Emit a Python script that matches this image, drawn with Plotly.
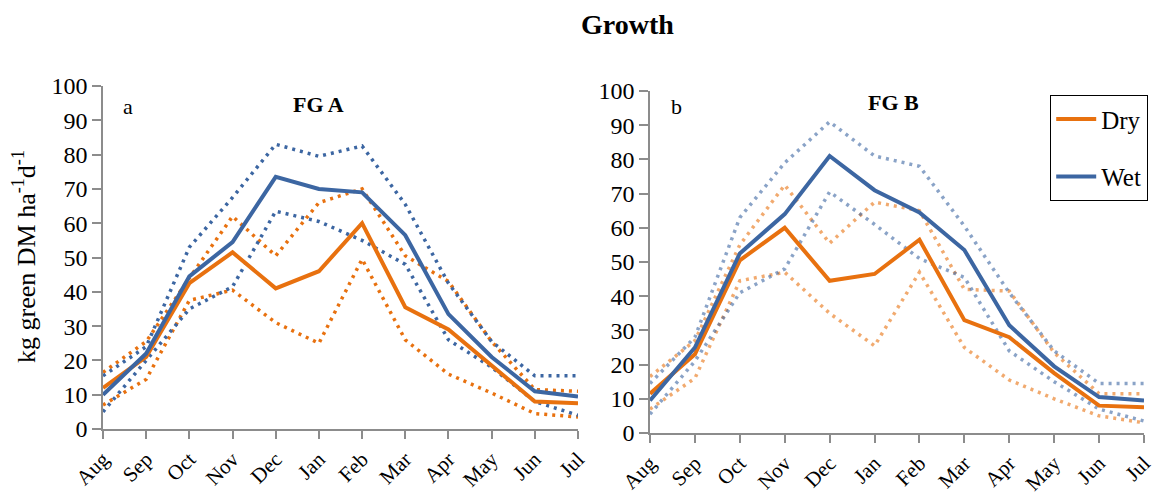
import plotly.graph_objects as go

months = ["Aug", "Sep", "Oct", "Nov", "Dec", "Jan", "Feb", "Mar", "Apr", "May", "Jun", "Jul"]
month_idx = list(range(len(months)))
y_ticks = list(range(0, 101, 10))

# FG A
a_wet = [10, 22, 44.5, 54.5, 73.5, 70, 69, 56.5, 33.5, 21, 11, 9.5]
a_dry = [12, 21, 42.5, 51.5, 41, 46, 60, 35.5, 29, 18.5, 8, 7.5]
a_wet_hi = [15.5, 24, 53, 67.5, 83, 79.5, 82.5, 65.5, 42.5, 25.5, 15.5, 15.5]
a_wet_lo = [5, 20, 35, 41.5, 63.5, 60.5, 55, 48, 26, 18, 8, 4]
a_dry_hi = [16.5, 25.5, 44, 62, 50.5, 66, 70, 50.5, 43, 25.5, 11.5, 11]
a_dry_lo = [7, 14.5, 37.5, 40.5, 31, 25, 49.5, 26, 16, 10.5, 4.5, 3.5]

# FG B
b_wet = [9.5, 25, 52.5, 64, 81, 71, 64.5, 53.5, 31.5, 19.5, 10.5, 9.5]
b_dry = [11.5, 23, 50.5, 60, 44.5, 46.5, 56.5, 33, 28, 17.5, 8, 7.5]
b_wet_hi = [14.5, 28, 63, 79, 91, 81, 78, 60.5, 41, 24, 14.5, 14.5]
b_wet_lo = [5.5, 21, 41, 48, 70.5, 61, 51, 45.5, 24, 15, 7, 3.5]
b_dry_hi = [16.5, 27, 55, 72.5, 55.5, 67.5, 65, 42, 41.5, 23.5, 11.5, 11.5]
b_dry_lo = [7, 16, 44.5, 47, 35, 25.5, 47, 25, 15.5, 10, 5, 3]

ORANGE = "#E8710F"
BLUE = "#3C66A2"
ORANGE_LIGHT = "rgba(232,113,15,0.6)"
BLUE_LIGHT = "rgba(60,102,162,0.6)"
FONT = "Liberation Serif"
DOT = "3px,5px"

fig = go.Figure()


def add_panel(xa, ya, wet, dry, wet_hi, wet_lo, dry_hi, dry_lo, dot_orange, dot_blue, legend):
    for vals, col in [(dry_hi, dot_orange), (dry_lo, dot_orange), (wet_hi, dot_blue), (wet_lo, dot_blue)]:
        fig.add_trace(go.Scatter(x=month_idx, y=vals, mode="lines", xaxis=xa, yaxis=ya,
                                 line=dict(color=col, width=3.5, dash=DOT),
                                 showlegend=False, hoverinfo="skip"))
    fig.add_trace(go.Scatter(x=month_idx, y=dry, mode="lines", name="Dry", xaxis=xa, yaxis=ya,
                             line=dict(color=ORANGE, width=4), showlegend=legend,
                             legendgroup="dry"))
    fig.add_trace(go.Scatter(x=month_idx, y=wet, mode="lines", name="Wet", xaxis=xa, yaxis=ya,
                             line=dict(color=BLUE, width=4), showlegend=legend,
                             legendgroup="wet"))


add_panel("x", "y", a_wet, a_dry, a_wet_hi, a_wet_lo, a_dry_hi, a_dry_lo, ORANGE, BLUE, True)
add_panel("x2", "y2", b_wet, b_dry, b_wet_hi, b_wet_lo, b_dry_hi, b_dry_lo, ORANGE_LIGHT, BLUE_LIGHT, False)

W, H = 1161, 495

xaxis_common = dict(
    range=[0, 11], tickmode="array", tickvals=month_idx, ticktext=months, tickangle=-45,
    showgrid=False, zeroline=False, showline=True, linecolor="#8C8C8C", linewidth=1.5,
    ticks="outside", tickcolor="#8C8C8C", ticklen=8, tickwidth=1.5,
    tickfont=dict(family=FONT, size=21, color="black"), automargin=False,
)
yaxis_common = dict(
    range=[0, 100], tickvals=y_ticks, showgrid=False, zeroline=False, showline=True,
    linecolor="#8C8C8C", linewidth=1.5, ticks="outside", tickcolor="#8C8C8C", ticklen=9,
    tickwidth=1.5, tickfont=dict(family=FONT, size=24, color="black"), automargin=False,
)


def label(text, x, y, size, angle=0):
    return dict(text=text, x=x / W, y=(H - y) / H, xref="paper", yref="paper",
                xanchor="center", yanchor="middle", textangle=angle, showarrow=False,
                font=dict(family=FONT, size=size, color="black"))


fig.update_layout(
    width=W, height=H,
    margin=dict(l=0, r=0, t=0, b=0, autoexpand=False),
    paper_bgcolor="white", plot_bgcolor="white",
    xaxis=dict(domain=[103 / W, 578 / W], anchor="y", **xaxis_common),
    yaxis=dict(domain=[(H - 429) / H, (H - 86) / H], anchor="x", **yaxis_common),
    xaxis2=dict(domain=[650 / W, 1144 / W], anchor="y2", **xaxis_common),
    yaxis2=dict(domain=[(H - 433) / H, (H - 91) / H], anchor="x2", **yaxis_common),
    legend=dict(x=1050 / W, y=(H - 95) / H, xanchor="left", yanchor="top",
                bordercolor="black", borderwidth=1.2, bgcolor="white",
                font=dict(family=FONT, size=25, color="black"),
                tracegroupgap=22, itemwidth=40),
    showlegend=True,
    annotations=[
        label("<b>Growth</b>", 627, 25, 28),
        label("kg green DM ha<sup>-1</sup>d<sup>-1</sup>", 24, 257, 26, angle=-90),
        label("a", 128, 106, 22),
        label("<b>FG A</b>", 318, 104, 22),
        label("b", 676, 106, 22),
        label("<b>FG B</b>", 893, 102, 22),
    ],
)

fig.write_html("out.html")
